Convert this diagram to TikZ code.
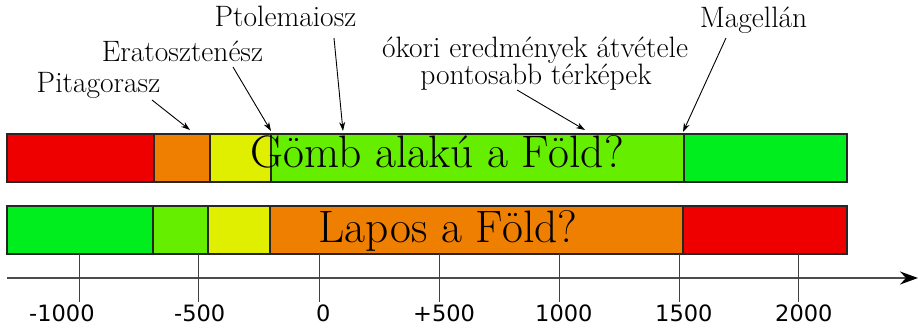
\documentclass[tikz,border=0pt]{standalone}
\usepackage{fontspec}
\newfontfamily\numfont{DejaVu Sans}
\usetikzlibrary{arrows.meta}
\definecolor{cred}{RGB}{238,0,0}
\definecolor{corange}{RGB}{238,127,0}
\definecolor{cyellow}{RGB}{224,238,0}
\definecolor{clgreen}{RGB}{102,238,0}
\definecolor{cgreen}{RGB}{0,238,30}
\begin{document}
\begin{tikzpicture}[x=1pt,y=-1pt,
  seg/.style={draw=black!85,line width=1.1pt,inner sep=0pt,minimum height=48pt,anchor=center},
  lbl/.style={inner sep=0pt,anchor=base,font=\fontsize{29.5}{29.5}\selectfont},
  big/.style={inner sep=0pt,anchor=base,font=\fontsize{45.5}{45.5}\selectfont},
  num/.style={inner sep=0pt,text depth=0pt,anchor=base west,font=\numfont\fontsize{22.5}{22.5}\selectfont},
  pointer/.style={-{Stealth[length=9pt,width=6pt]},line width=0.9pt},
  tick/.style={draw=black!75,line width=1pt},
  axis/.style={draw=black!70,line width=1.5pt,-{Stealth[length=18pt,width=13pt,inset=6pt,color=black]}}]
\useasboundingbox (0,0) rectangle (918,328);
% top bar
\node[seg,fill=cred,minimum width=147pt] (t1) at (80.5,158) {};
\node[seg,fill=corange,minimum width=56pt] (t2) at (182,158) {};
\node[seg,fill=cyellow,minimum width=61pt] (t3) at (240.5,158) {};
\node[seg,fill=clgreen,minimum width=413pt] (t4) at (477.5,158) {};
\node[seg,fill=cgreen,minimum width=163pt] (t5) at (765.5,158) {};
% bottom bar
\node[seg,fill=cgreen,minimum width=146pt] (b1) at (80,230) {};
\node[seg,fill=clgreen,minimum width=55pt] (b2) at (180.5,230) {};
\node[seg,fill=cyellow,minimum width=62pt] (b3) at (239,230) {};
\node[seg,fill=corange,minimum width=413pt] (b4) at (476.5,230) {};
\node[seg,fill=cred,minimum width=164pt] (b5) at (765,230) {};
% bar texts
\node[big] (gomb) at (437,168) {Gömb alakú a Föld?};
\node[big] (lapos) at (448,243) {Lapos a Föld?};
% labels
\node[lbl] (pit) at (98.5,93) {Pitagorasz};
\node[lbl] (era) at (182.5,62) {Eratosztenész};
\node[lbl] (pto) at (285.5,27) {Ptolemaiosz};
\node[lbl] (oko1) at (535,58) {ókori eredmények átvétele};
\node[lbl] (oko2) at (536,85) {pontosabb térképek};
\node[lbl] (mag) at (753.5,28) {Magellán};
% pointer coordinates
\coordinate (pitS) at (152,100);
\coordinate (pitE) at (190,130);
\coordinate (eraS) at (233,67);
\coordinate (eraE) at (271,131);
\coordinate (ptoS) at (334,38);
\coordinate (ptoE) at (343,131);
\coordinate (okoS) at (517,90);
\coordinate (okoE) at (585,130);
\coordinate (magS) at (726,38);
\coordinate (magE) at (683,132);
\draw[pointer] (pitS) -- (pitE);
\draw[pointer] (eraS) -- (eraE);
\draw[pointer] (ptoS) -- (ptoE);
\draw[pointer] (okoS) -- (okoE);
\draw[pointer] (magS) -- (magE);
% axis
\coordinate (ax0) at (7,278);
\coordinate (ax1) at (918,278);
\draw[axis] (ax0) -- (ax1);
\foreach \x/\n in {79/k1,198/k2,319/k3,439/k4,559/k5,679/k6,798/k7}{
  \coordinate (\n a) at (\x,254);
  \coordinate (\n b) at (\x,302);
  \draw[tick] (\n a) -- (\n b);
}
\node[num] (n1) at (29,322) {-1000};
\node[num] (n2) at (174,322) {-500};
\node[num] (n3) at (316,322) {0};
\node[num] (n4) at (413,322) {+500};
\node[num] (n5) at (535,322) {1000};
\node[num] (n6) at (655,322) {1500};
\node[num] (n7) at (775,322) {2000};
\end{tikzpicture}
\end{document}
